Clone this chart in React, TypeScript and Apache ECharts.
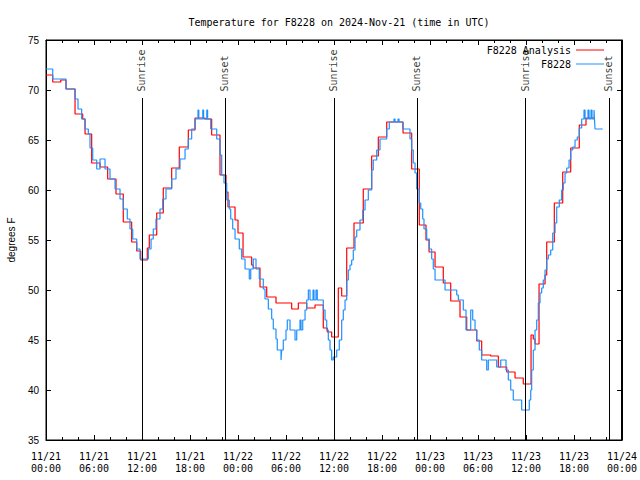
import React, { useEffect, useRef } from "react";
import * as echarts from "echarts";

// hours since 2024-11-21 00:00 UTC
const analysisHours = [0.0, 0.84, 1.84, 2.5, 3.63, 4.59, 4.88, 5.71, 6.75, 7.71, 8.75, 9.66, 10.71, 11.34, 11.84, 12.66, 12.91, 13.84, 14.66, 15.71, 16.66, 17.79, 18.63, 19.88, 20.71, 21.75, 22.5, 22.75, 23.63, 24.0, 24.63, 25.71, 25.91, 26.75, 27.59, 28.75, 30.71, 31.54, 32.59, 33.63, 34.66, 35.16, 35.71, 36.54, 36.96, 37.59, 38.5, 39.66, 40.71, 41.54, 42.59, 44.63, 45.71, 46.66, 47.5, 47.88, 48.63, 49.66, 50.59, 51.75, 52.59, 53.84, 54.46, 55.59, 56.54, 57.59, 58.63, 59.66, 60.63, 60.91, 61.13, 61.63, 62.38, 62.59, 63.54, 64.59, 65.59, 66.66, 67.5, 68.63];
const analysisTemps = [71.5, 70.8, 71.0, 70.1, 67.6, 67.1, 65.6, 62.7, 62.3, 61.1, 59.6, 56.8, 54.8, 53.9, 53.0, 54.2, 55.5, 57.7, 60.2, 62.2, 64.3, 66.0, 67.2, 67.1, 65.5, 61.5, 59.8, 58.3, 57.0, 55.7, 53.3, 52.5, 52.2, 50.3, 49.3, 48.7, 48.1, 48.7, 48.2, 48.5, 46.2, 45.8, 45.3, 50.2, 49.4, 54.2, 56.7, 60.1, 63.4, 65.3, 66.8, 65.7, 62.1, 56.5, 55.0, 53.8, 52.3, 50.7, 48.9, 47.3, 46.0, 44.9, 43.5, 43.4, 42.3, 41.8, 41.2, 40.6, 45.5, 45.1, 44.6, 50.6, 51.5, 54.8, 58.7, 61.8, 64.2, 66.5, 67.2, 67.2];

const obsHours = [0.0, 0.84, 2.5, 3.63, 4.0, 4.46, 4.88, 5.29, 5.5, 5.84, 6.34, 6.75, 7.38, 8.0, 8.63, 9.25, 9.66, 10.16, 10.5, 10.84, 11.34, 11.75, 12.79, 13.13, 13.41, 13.75, 14.25, 14.59, 15.0, 15.71, 16.25, 16.75, 17.38, 17.79, 18.21, 18.63, 19.0, 19.1, 19.6, 19.7, 20.1, 20.2, 20.59, 21.34, 21.75, 21.96, 22.25, 22.59, 22.91, 23.09, 23.34, 23.63, 24.16, 24.46, 24.88, 25.41, 25.59, 25.91, 26.25, 26.66, 27.16, 27.38, 27.79, 28.21, 28.41, 28.75, 28.91, 29.38, 29.46, 29.66, 30.0, 30.16, 30.5, 31.13, 31.34, 31.75, 31.88, 32.09, 32.38, 32.59, 32.79, 33.0, 33.38, 33.5, 33.75, 33.91, 34.66, 34.88, 35.09, 35.29, 35.5, 35.71, 35.91, 36.34, 36.66, 36.96, 37.16, 37.38, 37.59, 37.79, 38.0, 38.21, 38.41, 38.63, 38.84, 39.25, 39.59, 39.88, 40.29, 40.71, 40.91, 41.34, 41.75, 42.59, 42.91, 43.5, 43.63, 44.0, 44.13, 44.59, 45.5, 45.71, 45.91, 46.13, 46.34, 46.66, 46.84, 47.09, 47.25, 47.59, 47.91, 48.21, 48.41, 48.63, 49.88, 51.34, 51.54, 52.16, 52.5, 53.09, 53.34, 53.63, 53.84, 54.16, 54.46, 55.09, 55.29, 56.34, 56.84, 57.5, 57.79, 58.09, 58.41, 59.46, 60.41, 60.59, 60.71, 60.91, 61.13, 61.34, 61.54, 61.75, 61.96, 62.16, 62.38, 62.59, 62.79, 63.09, 63.34, 63.63, 63.84, 64.16, 64.46, 64.66, 64.88, 65.09, 65.38, 65.59, 65.84, 66.13, 66.41, 66.66, 66.96, 67.25, 67.38, 67.75, 67.88, 68.13, 68.25, 68.5, 68.56, 68.63, 69.59];
const obsTemps = [72.1, 71.1, 70.1, 69.1, 68.1, 67.1, 66.1, 65.6, 64.2, 63.0, 62.1, 63.1, 62.1, 61.1, 60.1, 59.1, 58.1, 57.1, 56.1, 55.1, 54.1, 53.1, 54.1, 55.1, 56.1, 57.1, 58.1, 59.1, 60.1, 61.1, 62.1, 63.1, 64.1, 65.1, 66.1, 67.1, 68.0, 67.1, 68.0, 67.1, 68.0, 67.1, 66.1, 65.1, 63.5, 61.5, 60.7, 59.0, 58.1, 57.1, 56.1, 55.1, 54.1, 53.1, 52.1, 51.1, 52.1, 53.1, 52.1, 51.1, 50.1, 49.1, 48.1, 47.1, 46.1, 45.1, 44.0, 43.0, 44.0, 45.0, 46.0, 47.0, 46.0, 45.0, 46.0, 47.0, 46.0, 47.0, 48.0, 49.0, 50.0, 49.0, 50.0, 49.0, 50.0, 49.0, 48.0, 47.0, 46.0, 45.0, 44.0, 43.0, 43.3, 44.0, 45.0, 47.0, 48.0, 49.0, 51.0, 52.0, 52.5, 53.0, 54.0, 55.3, 56.0, 57.0, 58.0, 59.0, 60.0, 62.0, 63.0, 64.0, 65.1, 66.1, 66.8, 67.1, 66.8, 67.1, 66.8, 66.1, 65.1, 64.0, 62.7, 61.7, 60.1, 58.7, 58.1, 57.1, 56.1, 55.1, 54.1, 53.1, 52.1, 51.0, 50.0, 49.5, 49.0, 48.0, 46.0, 48.0, 47.0, 46.0, 45.0, 44.0, 43.0, 42.0, 43.0, 42.3, 43.0, 42.0, 41.0, 40.0, 39.0, 38.0, 39.0, 40.0, 42.0, 44.0, 46.0, 47.0, 48.7, 49.7, 50.2, 51.0, 52.0, 53.1, 53.5, 54.0, 55.7, 56.7, 58.3, 59.0, 60.0, 60.7, 61.7, 62.2, 63.0, 64.0, 64.3, 65.0, 65.3, 66.2, 67.1, 68.0, 67.1, 68.0, 67.1, 68.0, 67.1, 68.0, 67.1, 66.1, 66.1];

const sunNames = ["Sunrise", "Sunset", "Sunrise", "Sunset", "Sunrise", "Sunset"];
const sunHours = [12.03, 22.37, 36.04, 46.41, 59.96, 70.38];

const seriesNames = ["F8228 Analysis", "F8228"];
const yTicks = { min: 35, max: 75, interval: 5 };
const xTicks = { min: 0, max: 72, interval: 6 };

const MONO = "'DejaVu Sans Mono', 'Liberation Mono', monospace";
const SANS = "'Liberation Sans', Arial, sans-serif";

export default function App() {
  const ref = useRef<HTMLDivElement>(null);
  useEffect(() => {
    if (!ref.current) return;
    const chart = echarts.init(ref.current, null, { renderer: "svg" });
    const analysis = analysisHours.map((h, i) => [h, analysisTemps[i]]);
    const obs = obsHours.map((h, i) => [h, obsTemps[i]]);
    const fmtX = (v: number) => {
      const day = 21 + Math.floor(v / 24);
      const hr = Math.round(v % 24);
      return `11/${day}\n${String(hr).padStart(2, "0")}:00`;
    };
    const tick = { show: true, inside: true, length: 5, lineStyle: { color: "#000" } };
    const line = { show: true, onZero: false, lineStyle: { color: "#000", width: 1 } };
    chart.setOption({
      animation: false,
      title: {
        text: "Temperature for F8228 on 2024-Nov-21 (time in UTC)",
        left: 334,
        textAlign: "center",
        top: 12,
        textStyle: { fontFamily: MONO, fontSize: 10, fontWeight: "normal", color: "#000" },
      },
      grid: { left: 46, right: 18, top: 40, bottom: 40, show: true, borderColor: "#000", borderWidth: 1, outerBoundsMode: "none" },
      legend: [
        {
          data: [seriesNames[0]], right: 31, top: 40, align: "right", icon: "rect",
          itemWidth: 28, itemHeight: 1,
          textStyle: { fontFamily: MONO, fontSize: 10, color: "#000" },
        },
        {
          data: [seriesNames[1]], right: 31, top: 54, align: "right", icon: "rect",
          itemWidth: 28, itemHeight: 1,
          textStyle: { fontFamily: MONO, fontSize: 10, color: "#000" },
        },
      ],
      xAxis: [
        {
          type: "value", min: xTicks.min, max: xTicks.max, interval: xTicks.interval,
          splitLine: { show: false }, axisLine: line, axisTick: tick,
          minorTick: { show: true, splitNumber: 3, length: 3, lineStyle: { color: "#000" } },
          axisLabel: { formatter: fmtX, fontFamily: MONO, fontSize: 10, color: "#000", lineHeight: 12, margin: 10 },
        },
        {
          type: "value", position: "top", min: xTicks.min, max: xTicks.max, interval: xTicks.interval,
          splitLine: { show: false }, axisLine: line, axisTick: tick,
          minorTick: { show: true, splitNumber: 3, length: 3, lineStyle: { color: "#000" } },
          axisLabel: { show: false },
        },
      ],
      yAxis: [
        {
          type: "value", min: yTicks.min, max: yTicks.max, interval: yTicks.interval,
          splitLine: { show: false }, axisLine: line, axisTick: tick,
          name: "degrees F", nameLocation: "middle", nameRotate: 90, nameGap: 30,
          nameTextStyle: { fontFamily: SANS, fontSize: 10, color: "#000" },
          axisLabel: { fontFamily: SANS, fontSize: 10, color: "#000", margin: 7 },
        },
        {
          type: "value", position: "right", min: yTicks.min, max: yTicks.max, interval: yTicks.interval,
          splitLine: { show: false }, axisLine: line, axisTick: tick,
          axisLabel: { show: false },
        },
      ],
      series: [
        {
          name: "Sun",
          type: "scatter",
          symbolSize: 1,
          itemStyle: { color: "rgba(0,0,0,0)" },
          data: sunNames.map((n, i) => ({ name: n, value: [sunHours[i], 69.8] })),
          label: {
            show: true, formatter: (p: any) => p.name, rotate: 90, position: [0, 0],
            align: "left", verticalAlign: "middle", fontFamily: MONO, fontSize: 10, color: "#000",
          },
          markLine: {
            silent: true, symbol: "none", label: { show: false },
            lineStyle: { color: "#000", width: 1, type: "solid" },
            data: sunHours.map((h) => [{ coord: [h, yTicks.min] }, { coord: [h, 69.2] }]),
          },
          z: 1,
        },
        {
          name: seriesNames[0], type: "line", step: "end", showSymbol: false, symbol: "none",
          data: analysis, lineStyle: { color: "#ff0000", width: 1.2 }, itemStyle: { color: "#ff0000" }, z: 2,
        },
        {
          name: seriesNames[1], type: "line", step: "end", showSymbol: false, symbol: "none",
          data: obs, lineStyle: { color: "#1e90ff", width: 1.2 }, itemStyle: { color: "#1e90ff" }, z: 3,
        },
      ],
    });
    // right frame edge, positioned through the axes
    const pb = chart.convertToPixel({ gridIndex: 0 }, [xTicks.max, yTicks.min]) as number[];
    const pt = chart.convertToPixel({ gridIndex: 0 }, [xTicks.max, yTicks.max]) as number[];
    if (pb && pt) {
      const x = Math.round(pb[0]) - 0.5;
      chart.setOption({
        graphic: [
          {
            type: "line",
            z: 100,
            shape: { x1: x, y1: pt[1], x2: x, y2: pb[1] },
            style: { stroke: "#000", lineWidth: 1 },
          },
        ],
      });
    }
    return () => chart.dispose();
  }, []);
  return <div ref={ref} style={{ position: "absolute", left: 0, top: 0, width: 640, height: 480 }} />;
}
